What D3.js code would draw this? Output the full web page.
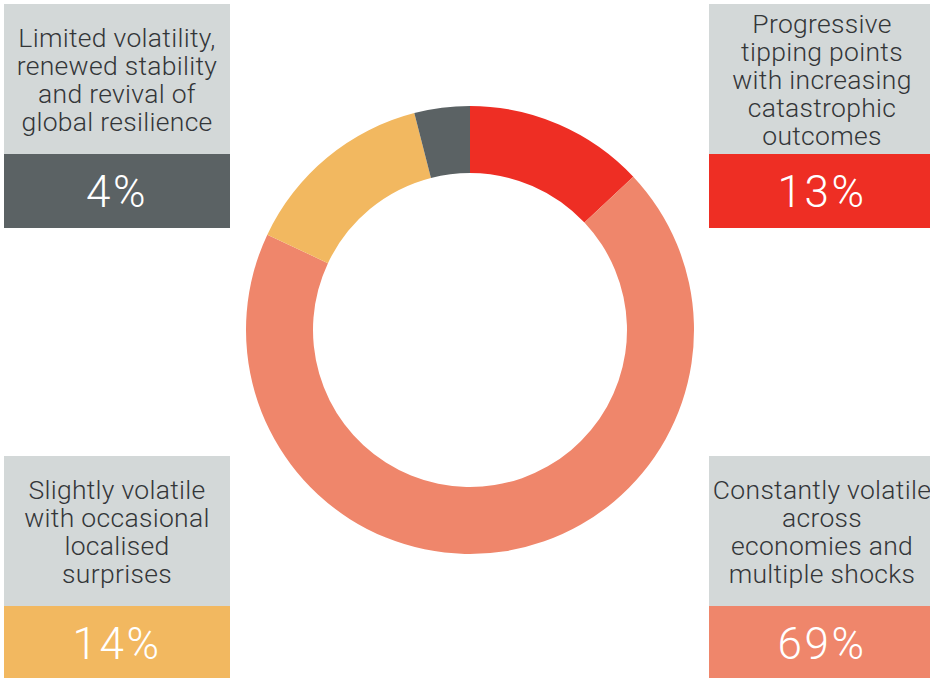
<!DOCTYPE html>
<html>
<head>
<meta charset="utf-8">
<script src="https://cdn.jsdelivr.net/npm/d3@7"></script>
<style>
  html, body { margin: 0; padding: 0; background: #ffffff; }
  svg { display: block; }
</style>
</head>
<body>
<svg id="chart" width="930" height="678"></svg>
<script>
// Scenario shares, in drawing order clockwise from 12 o'clock
const scenarios = ["Progressive tipping points", "Constantly volatile", "Slightly volatile", "Limited volatility"];
const shares = [13, 69, 14, 4];
const colors = ["#ee2e24", "#ef866b", "#f2b860", "#5b6264"];

// Descriptive text for each card
const cardLines = [
  ["Progressive", "tipping points", "with increasing", "catastrophic", "outcomes"],
  ["Constantly volatile", "across", "economies and", "multiple shocks"],
  ["Slightly volatile", "with occasional", "localised", "surprises"],
  ["Limited volatility,", "renewed stability", "and revival of", "global resilience"]
];
const valueLabels = ["13%", "69%", "14%", "4%"];

// Card placement (top-left corner of each card)
const cardPos = [
  { x: 709, y: 4 },
  { x: 709, y: 456 },
  { x: 4, y: 456 },
  { x: 4, y: 4 }
];

const svg = d3.select("#chart");
const font = "Roboto, 'Helvetica Neue', Arial, sans-serif";

// ---- Donut ----
const cx = 470, cy = 330, outerR = 224, innerR = 157;
const pie = d3.pie().value(d => d).sort(null);
const arc = d3.arc().innerRadius(innerR).outerRadius(outerR);

svg.append("g")
  .attr("transform", `translate(${cx},${cy})`)
  .selectAll("path")
  .data(pie(shares))
  .join("path")
  .attr("d", arc)
  .attr("fill", (d, i) => colors[i]);

// ---- Cards ----
const cardW = 226, labelH = 150, valueH = 74, lineH = 28;

const cards = svg.append("g").selectAll("g")
  .data(scenarios)
  .join("g")
  .attr("transform", (d, i) => `translate(${cardPos[i].x},${cardPos[i].y})`);

cards.append("rect")
  .attr("width", cardW)
  .attr("height", labelH)
  .attr("fill", "#d3d8d8");

cards.append("rect")
  .attr("y", labelH)
  .attr("width", cardW)
  .attr("height", valueH)
  .attr("fill", (d, i) => colors[i]);

cards.each(function (d, i) {
  const g = d3.select(this);
  const lines = cardLines[i];
  const midBaseline = labelH / 2 + 9.5;
  const first = midBaseline - (lines.length - 1) * lineH / 2;
  g.append("text")
    .attr("text-anchor", "middle")
    .attr("font-family", font)
    .attr("font-weight", 300)
    .attr("font-size", 26.5)
    .attr("letter-spacing", 0.3)
    .attr("fill", "#333638")
    .selectAll("tspan")
    .data(lines)
    .join("tspan")
    .attr("x", cardW / 2)
    .attr("y", (l, j) => first + j * lineH)
    .text(l => l);

  g.append("text")
    .attr("x", cardW / 2)
    .attr("y", labelH + valueH / 2 + 16)
    .attr("text-anchor", "middle")
    .attr("font-family", font)
    .attr("font-weight", 300)
    .attr("font-size", 44)
    .attr("letter-spacing", 2.5)
    .attr("fill", "#ffffff")
    .text(valueLabels[i]);
});
</script>
</body>
</html>
